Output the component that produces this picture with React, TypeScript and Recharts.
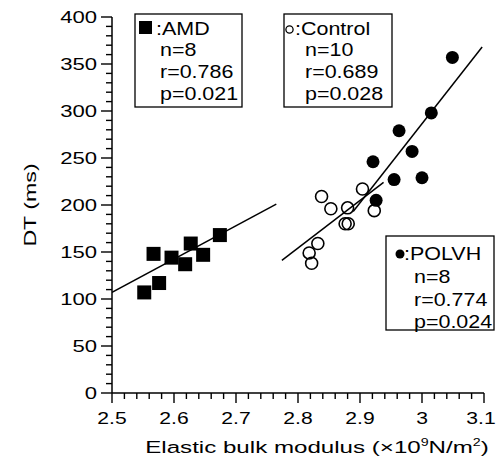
import { Scatter, ScatterChart, XAxis, YAxis } from "recharts";

// AMD (filled squares)
const amdX = [2.552, 2.576, 2.567, 2.596, 2.618, 2.627, 2.647, 2.674];
const amdY = [107, 117, 148, 144, 137, 159, 147, 168];
// Control (open circles)
const controlX = [2.838, 2.853, 2.880, 2.904, 2.923, 2.876, 2.881, 2.832, 2.818, 2.822];
const controlY = [209, 196, 197, 217, 194, 180, 180, 159, 149, 138];
// POLVH (filled circles)
const polvhX = [3.049, 3.015, 2.963, 2.984, 2.921, 2.955, 3.0, 2.926];
const polvhY = [357, 298, 279, 257, 246, 227, 229, 205];

// regression lines (end points)
const amdFitX = [2.5, 2.765];
const amdFitY = [107, 201];
const controlFitX = [2.774, 2.938];
const controlFitY = [141, 224];
const polvhFitX = [2.889, 3.097];
const polvhFitY = [193, 368];

const xMajorLabels = ["2.5", "2.6", "2.7", "2.8", "2.9", "3", "3.1"];
const yMajorLabels = ["0", "50", "100", "150", "200", "250", "300", "350", "400"];

// minor ticks every 0.02 / 10
const xTicks: number[] = [];
for (let i = 0; i <= 30; i++) xTicks.push(Number((2.5 + i * 0.02).toFixed(2)));
const yTicks: number[] = [];
for (let i = 0; i <= 40; i++) yTicks.push(i * 10);

const zip = (xs: number[], ys: number[]) => xs.map((x, i) => ({ x, y: ys[i] }));

const FONT = "'Liberation Sans', Arial, Helvetica, sans-serif";

const XTick = (props: any) => {
  const { x, y, payload } = props;
  const v = Number(payload.value);
  const major = Math.abs(v * 10 - Math.round(v * 10)) < 1e-6;
  const label = xMajorLabels.find((l) => Math.abs(Number(l) - v) < 1e-6);
  // keep the last label inside the picture
  const lx = label === "3.1" ? x - 3 : x;
  return (
    <g>
      <line x1={x} x2={x} y1={y} y2={y + (major ? 10 : 6)} stroke="#000" strokeWidth={1.4} />
      {major && label && (
        <text
          transform={`translate(${lx},${y + 31}) scale(1.32,1)`}
          textAnchor="middle"
          fontSize={16}
          fontFamily={FONT}
          fill="#000"
        >
          {label}
        </text>
      )}
    </g>
  );
};

const YTick = (props: any) => {
  const { x, y, payload } = props;
  const v = Number(payload.value);
  const major = v % 50 === 0;
  const label = yMajorLabels.find((l) => Number(l) === v);
  return (
    <g>
      <line x1={x} x2={x - (major ? 11 : 6)} y1={y} y2={y} stroke="#000" strokeWidth={1.4} />
      {major && label && (
        <text
          transform={`translate(${x - 15},${y + 6}) scale(1.38,1)`}
          textAnchor="end"
          fontSize={16}
          fontFamily={FONT}
          fill="#000"
        >
          {label}
        </text>
      )}
    </g>
  );
};

const Square = (props: any) => (
  <rect x={props.cx - 7} y={props.cy - 7} width={14} height={14} fill="#000" />
);
const OpenDot = (props: any) => (
  <circle cx={props.cx} cy={props.cy} r={6} fill="none" stroke="#000" strokeWidth={1.6} />
);
const FilledDot = (props: any) => <circle cx={props.cx} cy={props.cy} r={6.5} fill="#000" />;
const NoDot = () => <g />;

const BoxText = ({ x, y, children }: { x: number; y: number; children: string }) => (
  <text
    transform={`translate(${x},${y}) scale(1.13,1)`}
    fontSize={19}
    fontFamily={FONT}
    fill="#000"
  >
    {children}
  </text>
);

const App = () => {
  return (
    <div style={{ position: "absolute", left: 0, top: 0, width: 496, height: 461, background: "#fff" }}>
      <ScatterChart width={496} height={461} margin={{ top: 17, right: 12, bottom: 0, left: 0 }}>
        <XAxis
          type="number"
          dataKey="x"
          domain={[2.5, 3.1]}
          ticks={xTicks}
          interval={0}
          height={68}
          tickSize={0}
          tickMargin={0}
          minTickGap={0}
          tick={XTick}
          axisLine={{ stroke: "#000", strokeWidth: 1.5 }}
          allowDataOverflow
        />
        <YAxis
          type="number"
          dataKey="y"
          domain={[0, 400]}
          ticks={yTicks}
          interval={0}
          width={112}
          tickSize={0}
          tickMargin={0}
          minTickGap={0}
          tick={YTick}
          axisLine={{ stroke: "#000", strokeWidth: 1.5 }}
          allowDataOverflow
        />
        <Scatter data={zip(amdFitX, amdFitY)} line={{ stroke: "#000", strokeWidth: 1.5 }} shape={<NoDot />} isAnimationActive={false} />
        <Scatter data={zip(controlFitX, controlFitY)} line={{ stroke: "#000", strokeWidth: 1.5 }} shape={<NoDot />} isAnimationActive={false} />
        <Scatter data={zip(polvhFitX, polvhFitY)} line={{ stroke: "#000", strokeWidth: 1.5 }} shape={<NoDot />} isAnimationActive={false} />
        <Scatter name="AMD" data={zip(amdX, amdY)} shape={<Square />} isAnimationActive={false} />
        <Scatter name="Control" data={zip(controlX, controlY)} shape={<OpenDot />} isAnimationActive={false} />
        <Scatter name="POLVH" data={zip(polvhX, polvhY)} shape={<FilledDot />} isAnimationActive={false} />
      </ScatterChart>
      <svg width={496} height={461} style={{ position: "absolute", left: 0, top: 0, pointerEvents: "none" }}>
        {/* AMD box */}
        <rect x={135} y={14} width={107} height={93} fill="#fff" stroke="#000" strokeWidth={1.3} />
        <rect x={139} y={21} width={13} height={13} fill="#000" />
        <BoxText x={156} y={35}>:AMD</BoxText>
        <BoxText x={160} y={56}>n=8</BoxText>
        <BoxText x={160} y={78}>r=0.786</BoxText>
        <BoxText x={160} y={100}>p=0.021</BoxText>
        {/* Control box */}
        <rect x={284} y={14} width={108} height={93} fill="#fff" stroke="#000" strokeWidth={1.3} />
        <circle cx={289.5} cy={29.5} r={3.6} fill="none" stroke="#000" strokeWidth={1.3} />
        <BoxText x={295} y={35}>:Control</BoxText>
        <BoxText x={305} y={56}>n=10</BoxText>
        <BoxText x={305} y={78}>r=0.689</BoxText>
        <BoxText x={305} y={100}>p=0.028</BoxText>
        {/* POLVH box */}
        <rect x={386} y={236} width={108} height={94} fill="#fff" stroke="#000" strokeWidth={1.3} />
        <circle cx={400} cy={254} r={4.5} fill="#000" />
        <BoxText x={404} y={260}>:POLVH</BoxText>
        <BoxText x={414} y={283}>n=8</BoxText>
        <BoxText x={414} y={306}>r=0.774</BoxText>
        <BoxText x={414} y={328}>p=0.024</BoxText>
        {/* axis titles */}
        <text transform="translate(30,205) rotate(-90) scale(1.45,1)" textAnchor="middle" dominantBaseline="central" fontSize={16} fontFamily={FONT} fill="#000">
          DT (ms)
        </text>
        <text transform="translate(317,453) scale(1.42,1)" textAnchor="middle" fontSize={17} fontFamily={FONT} fill="#000">
          Elastic bulk modulus (×10<tspan fontSize={10} dy={-7}>9</tspan><tspan dy={7}>N/m</tspan><tspan fontSize={10} dy={-7}>2</tspan><tspan dy={7}>)</tspan>
        </text>
      </svg>
    </div>
  );
};

export default App;
